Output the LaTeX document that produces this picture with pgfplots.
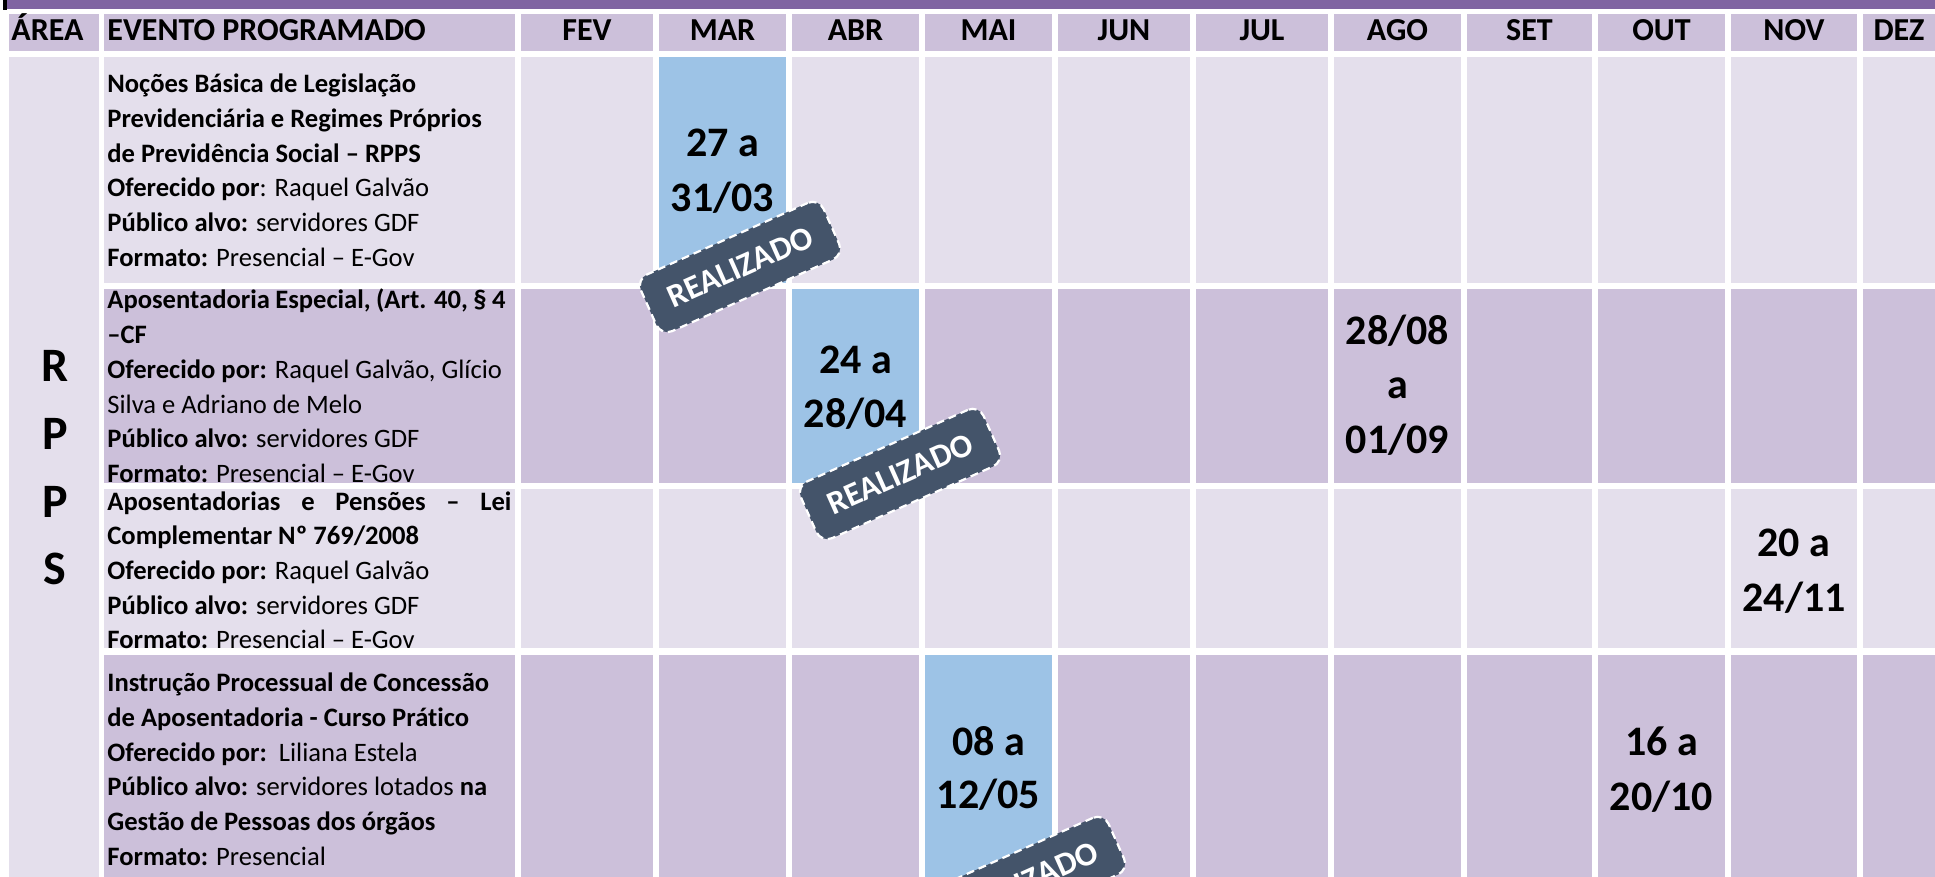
\documentclass[border=0pt]{standalone}
\usepackage{fontspec}
\setmainfont{Carlito}[Ligatures=NoCommon]
\usepackage{pgfplots}
\pgfplotsset{compat=1.18}
\definecolor{barpurple}{HTML}{8064A2}
\definecolor{cdark}{HTML}{CCC0DA}
\definecolor{clight}{HTML}{E4DFEC}
\definecolor{cblue}{HTML}{9DC3E6}
\definecolor{cstamp}{HTML}{44546A}
% cell rectangle: x1 x2 y1 y2 colour
\newcommand{\cell}[5]{\addplot[draw=none, fill=#5] coordinates {(#1,#3) (#2,#3) (#2,#4) (#1,#4)} -- cycle;}
\newcommand{\gap}[2]{\addplot[white, line width=#2] coordinates {(#1,10) (#1,877)};}
\newcommand{\bodyfont}{\fontsize{13.3}{16}\selectfont}
\newcommand{\tl}[2]{\node[anchor=base west, inner sep=0pt, font=\bodyfont] at (axis cs:107,#1) {#2};}
\newcommand{\hd}[2]{\node[anchor=base, inner sep=0pt, font=\fontsize{16}{18}\selectfont\bfseries] at (axis cs:#1,41) {#2};}
\newcommand{\dt}[3]{\node[anchor=base, inner sep=0pt, font=\fontsize{21}{24}\selectfont\bfseries] at (axis cs:#1,#2) {#3};}
\newcommand{\stamp}[2]{\node[rotate=24, fill=cstamp, draw=white, dash pattern=on 4pt off 2.5pt, line width=1.1pt, rounded corners=6pt, minimum width=100pt, minimum height=31pt, inner sep=0pt, text=white, font=\fontsize{16.5}{18}\selectfont\bfseries] at (axis cs:#1,#2) {REALIZADO};}
\newcommand{\rl}[2]{\node[anchor=base, inner sep=0pt, font=\fontsize{24}{26}\selectfont\bfseries] at (axis cs:55,#1) {#2};}
\begin{document}
\begin{tikzpicture}
\useasboundingbox (0,0) rectangle (967.5pt,438.5pt);
\begin{axis}[at={(0,0)}, anchor=south west, width=967.5pt, height=438.5pt,
  scale only axis, xmin=0, xmax=1935, ymin=0, ymax=877, y dir=reverse, hide axis]
% top bar
\cell{3}{7}{0}{10}{black}
\cell{7}{1935}{0}{9}{barpurple}
% header band
\cell{9}{1935}{14}{51}{cdark}
% area column
\cell{9}{99}{57}{877}{clight}
% row bands
\cell{104}{1935}{57}{283}{clight}
\cell{104}{1935}{289}{483}{cdark}
\cell{104}{1935}{489}{648}{clight}
\cell{104}{1935}{655}{877}{cdark}
% white column gaps
\gap{101.5}{2.5pt}
\gap{518}{3pt}
\gap{656}{3pt}
\gap{789}{3pt}
\gap{922}{3pt}
\gap{1055}{3pt}
\gap{1193}{3pt}
\gap{1331}{3pt}
\gap{1464}{3pt}
\gap{1595}{3pt}
\gap{1728}{3pt}
\gap{1860}{3pt}
% realised events
\cell{659}{786}{57}{283}{cblue}
\cell{792}{919}{289}{483}{cblue}
\cell{925}{1052}{655}{877}{cblue}
% header texts
\node[anchor=base west, inner sep=0pt, font=\fontsize{16}{18}\selectfont\bfseries] at (axis cs:11,41) {ÁREA};
\node[anchor=base west, inner sep=0pt, font=\fontsize{16}{18}\selectfont\bfseries] at (axis cs:107,41) {EVENTO PROGRAMADO};
\hd{587}{FEV}
\hd{722.5}{MAR}
\hd{855.5}{ABR}
\hd{988.5}{MAI}
\hd{1124}{JUN}
\hd{1262}{JUL}
\hd{1397.5}{AGO}
\hd{1529.5}{SET}
\hd{1661.5}{OUT}
\hd{1794}{NOV}
\hd{1899}{DEZ}
% area letters
\rl{382}{R}
\rl{450}{P}
\rl{517}{P}
\rl{584}{S}
% row 1
\tl{93}{\textbf{Noções Básica de Legislação}}
\tl{128}{\textbf{Previdenciária e Regimes Próprios}}
\tl{163}{\textbf{de Previdência Social – RPPS}}
\tl{197}{\textbf{Oferecido por}: Raquel Galvão}
\tl{232}{\textbf{Público alvo:} servidores GDF}
\tl{267}{\textbf{Formato:} Presencial – E-Gov}
% row 2
\tl{309}{\hbox to 199pt{\textbf{Aposentadoria Especial, (Art. 40, § 4}}}
\tl{344}{\textbf{–CF}}
\tl{379}{\textbf{Oferecido por:} Raquel Galvão, Glício}
\tl{414}{Silva e Adriano de Melo}
\tl{448}{\textbf{Público alvo:} servidores GDF}
\tl{482}{\textbf{Formato:} Presencial – E-Gov}
% row 3
\tl{510}{\hbox to 202pt{\textbf{Aposentadorias}\hfill\textbf{e}\hfill\textbf{Pensões}\hfill\textbf{–}\hfill\textbf{Lei}}}
\tl{545}{\textbf{Complementar Nº 769/2008}}
\tl{579}{\textbf{Oferecido por:} Raquel Galvão}
\tl{614}{\textbf{Público alvo:} servidores GDF}
\tl{648}{\textbf{Formato:} Presencial – E-Gov}
% row 4
\tl{691}{\textbf{Instrução Processual de Concessão}}
\tl{726}{\textbf{de Aposentadoria - Curso Prático}}
\tl{761}{\textbf{Oferecido por:}\ \ Liliana Estela}
\tl{795}{\textbf{Público alvo:} servidores lotados \textbf{na}}
\tl{830}{\textbf{Gestão de Pessoas dos órgãos}}
\tl{865}{\textbf{Formato:} Presencial}
% dates
\dt{722.5}{157}{27 a}
\dt{722.5}{212}{31/03}
\dt{855.5}{374}{24 a}
\dt{855.5}{428}{28/04}
\dt{1397.5}{345}{28/08}
\dt{1397.5}{399}{a}
\dt{1397.5}{453}{01/09}
\dt{1794}{556}{20 a}
\dt{1794}{611}{24/11}
\dt{988.5}{755}{08 a}
\dt{988.5}{808}{12/05}
\dt{1661.5}{755}{16 a}
\dt{1661.5}{810}{20/10}
% stamps
\stamp{740}{267}
\stamp{900}{474}
\stamp{1025}{882}
\end{axis}
\end{tikzpicture}
\end{document}
